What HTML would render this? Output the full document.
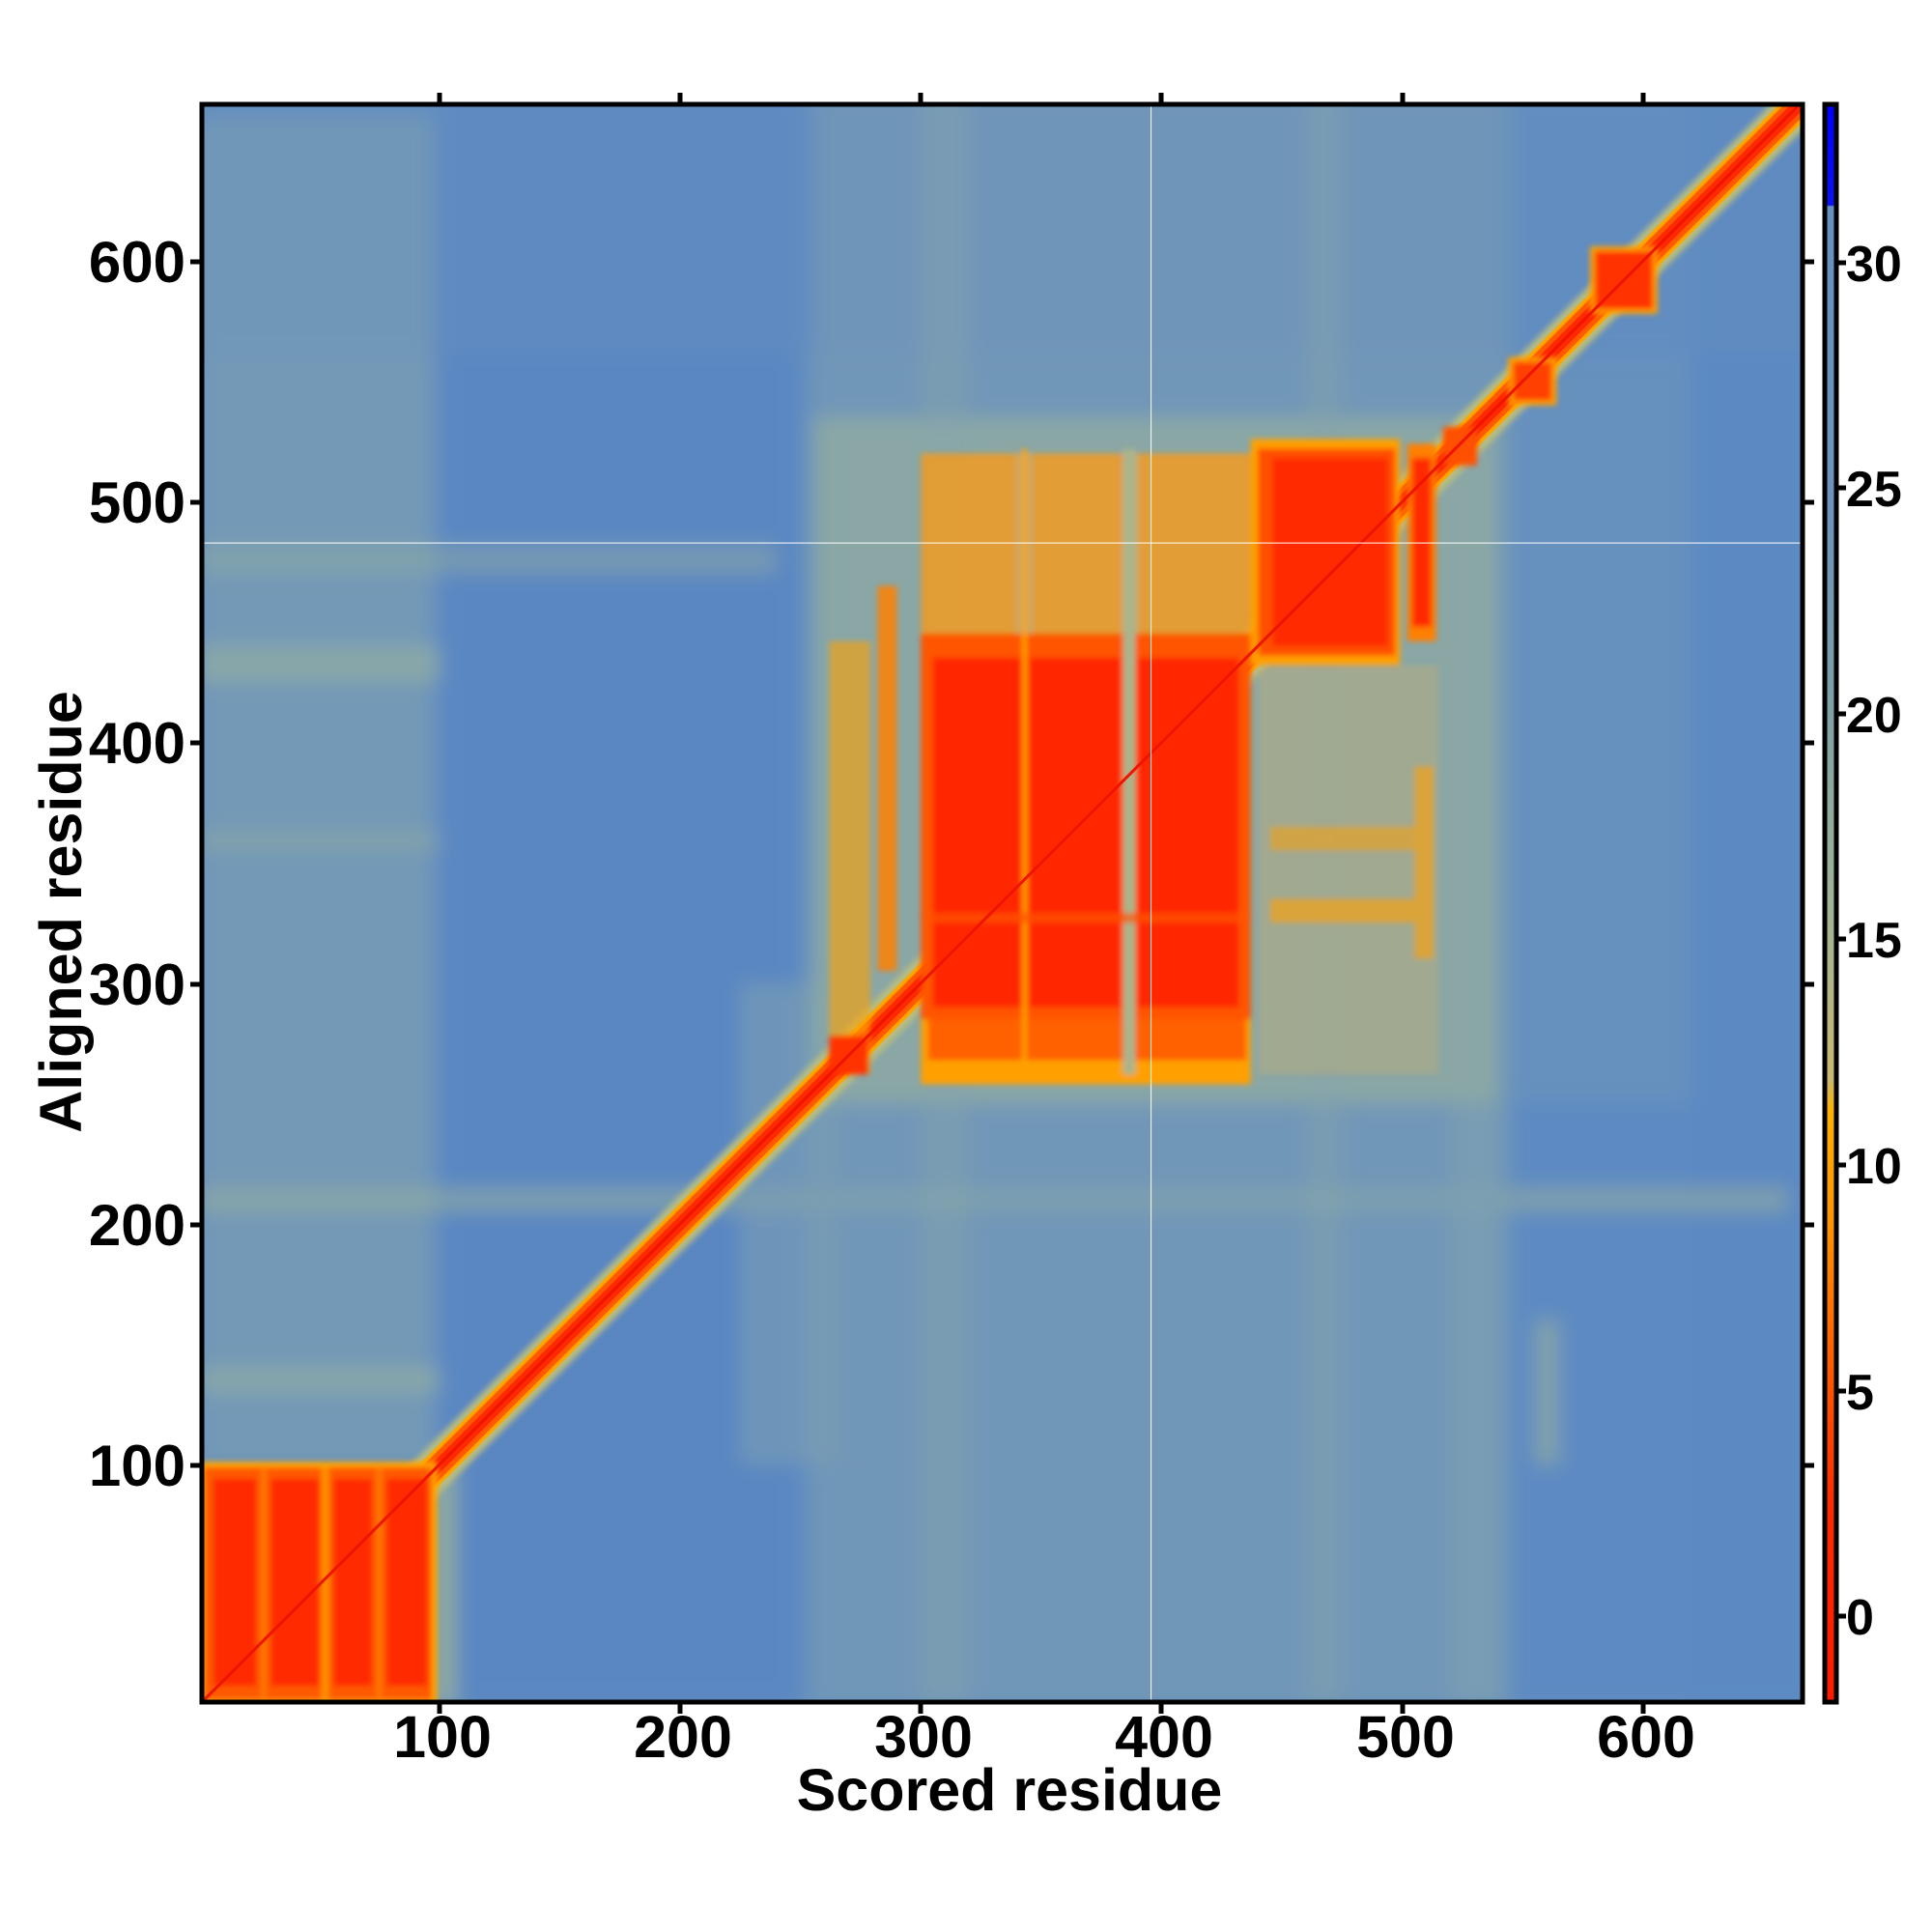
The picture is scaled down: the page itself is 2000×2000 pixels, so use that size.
<!DOCTYPE html>
<html><head><meta charset="utf-8"><style>
html,body{margin:0;padding:0;background:#fff;}
svg{display:block;}
text{font-family:"Liberation Sans",sans-serif;font-weight:bold;fill:#000;}
</style></head><body>
<svg width="2000" height="2000" viewBox="0 0 2000 2000" xmlns="http://www.w3.org/2000/svg">
<defs>
<clipPath id="pc"><rect x="207" y="106" width="1661" height="1658"/></clipPath>
<filter id="bl" x="-5%" y="-5%" width="110%" height="110%"><feGaussianBlur stdDeviation="4"/></filter>
<filter id="bl2" x="-5%" y="-5%" width="110%" height="110%"><feGaussianBlur stdDeviation="1.2"/></filter>
<linearGradient id="cb" x1="0" y1="1" x2="0" y2="0">
<stop offset="0" stop-color="#ff1a00"/>
<stop offset="0.12" stop-color="#ff2a00"/>
<stop offset="0.2" stop-color="#ff5500"/>
<stop offset="0.3" stop-color="#ff9400"/>
<stop offset="0.37" stop-color="#ffb000"/>
<stop offset="0.39" stop-color="#c8b870"/>
<stop offset="0.5" stop-color="#9fb496"/>
<stop offset="0.64" stop-color="#7a9ea8"/>
<stop offset="0.75" stop-color="#6a94bc"/>
<stop offset="0.936" stop-color="#6492c0"/>
<stop offset="0.937" stop-color="#0a14f0"/>
<stop offset="1" stop-color="#0000ff"/>
</linearGradient>
</defs>
<g clip-path="url(#pc)">
<rect x="207" y="106" width="1661" height="1658" fill="#6690be"/>
<g transform="translate(207,1764) scale(2.492,-2.492) translate(-0.5,-0.5)">
<g filter="url(#bl)">
<rect x="100" y="0" width="150" height="670" fill="#5a87c2"/>
<rect x="545" y="0" width="125" height="250" fill="#5d8ac2"/>
<rect x="620" y="0" width="50" height="670" fill="#5c89c2"/>
<rect x="0" y="560" width="670" height="110" fill="#5f8cc0" opacity="0.7"/>
<rect x="0" y="100" width="97" height="560" fill="#7d9fb2" opacity="0.6"/>
<rect x="0" y="130" width="100" height="10" fill="#96b09e" opacity="0.6"/>
<rect x="0" y="205" width="660" height="10" fill="#92ae9e" opacity="0.6"/>
<rect x="0" y="425" width="100" height="15" fill="#96b09e" opacity="0.6"/>
<rect x="0" y="470" width="240" height="12" fill="#8eaba4" opacity="0.5"/>
<rect x="0" y="355" width="100" height="8" fill="#90aca0" opacity="0.5"/>
<rect x="97" y="0" width="10" height="100" fill="#9ab39a" opacity="0.8"/>
<rect x="225" y="100" width="40" height="200" fill="#7c9eb2" opacity="0.6"/>
<rect x="255" y="250" width="285" height="285" fill="#9db497"/>
<rect x="255" y="0" width="290" height="670" fill="#7a9db3" opacity="0.55"/>
<rect x="555" y="100" width="10" height="60" fill="#9ab39a" opacity="0.6"/>
<rect x="520" y="0" width="20" height="250" fill="#80a2b0" opacity="0.6"/>
<rect x="300" y="0" width="20" height="670" fill="#86a6ac" opacity="0.4"/>
<rect x="460" y="0" width="15" height="670" fill="#86a6ac" opacity="0.4"/>
</g>
<line x1="0" y1="0" x2="672" y2="672" stroke="#b8bc80" stroke-width="17" filter="url(#bl2)"/>
<line x1="0" y1="0" x2="672" y2="672" stroke="#ffa500" stroke-width="12"/>
<line x1="0" y1="0" x2="672" y2="672" stroke="#ff5a00" stroke-width="9"/>
<line x1="0" y1="0" x2="672" y2="672" stroke="#ff2800" stroke-width="5"/>
<g filter="url(#bl2)">
<rect x="0" y="0" width="99" height="101" fill="#ffb000"/>
<rect x="2" y="2" width="95" height="97" fill="#ff5a00"/>
<g fill="#ff2a00">
<rect x="6" y="8" width="18" height="86"/>
<rect x="30" y="8" width="20" height="86"/>
<rect x="56" y="8" width="16" height="86"/>
<rect x="78" y="8" width="17" height="86"/>
</g>
<rect x="51" y="0" width="3" height="100" fill="#ffa000" opacity="0.8"/>
<rect x="26" y="0" width="2" height="100" fill="#ff8a00" opacity="0.7"/>
<rect x="74" y="0" width="2" height="100" fill="#ff8a00" opacity="0.7"/>
<rect x="262" y="262" width="17" height="180" fill="#ffa000" opacity="0.6"/>
<rect x="282" y="305" width="8" height="160" fill="#ff8000" opacity="0.85"/>
<rect x="300" y="440" width="137" height="80" fill="#ff9a10" opacity="0.75"/>
<rect x="340" y="440" width="6" height="80" fill="#a8b58c" opacity="0.6"/>
<rect x="384" y="440" width="6" height="80" fill="#a8b58c" opacity="0.6"/>
<rect x="300" y="258" width="137" height="30" fill="#ffa000"/>
<rect x="303" y="268" width="132" height="20" fill="#ff6000"/>
<rect x="300" y="285" width="137" height="160" fill="#ff5500"/>
<g fill="#ff2800">
<rect x="305" y="290" width="37" height="145"/>
<rect x="345" y="290" width="38" height="145"/>
<rect x="390" y="290" width="42" height="145"/>
</g>
<rect x="342" y="262" width="2" height="260" fill="#ffa000"/>
<rect x="384" y="262" width="5" height="260" fill="#a8b58c"/>
<rect x="300" y="325" width="137" height="4" fill="#ff5500" opacity="0.7"/>
<rect x="440" y="262" width="75" height="170" fill="#d8b060" opacity="0.3"/>
<rect x="445" y="325" width="60" height="10" fill="#ffa000" opacity="0.6"/>
<rect x="445" y="355" width="60" height="10" fill="#ffa000" opacity="0.5"/>
<rect x="505" y="310" width="8" height="80" fill="#ffa000" opacity="0.6"/>
<rect x="437" y="432" width="62" height="94" fill="#ffa000"/>
<rect x="440" y="436" width="57" height="86" fill="#ff5000"/>
<rect x="446" y="440" width="48" height="78" fill="#ff2a00"/>
<rect x="502" y="442" width="12" height="82" fill="#ff8000"/>
<rect x="504" y="448" width="8" height="70" fill="#ff2a00"/>
<rect x="262" y="262" width="16" height="16" fill="#ff3000"/>
<rect x="517" y="515" width="14" height="16" fill="#ff5000"/>
<rect x="544" y="540" width="20" height="20" fill="#ffa000"/>
<rect x="546" y="542" width="16" height="16" fill="#ff4000"/>
<rect x="578" y="578" width="28" height="28" fill="#ffa000"/>
<rect x="580" y="580" width="24" height="24" fill="#ff3000"/>
</g>
<line x1="0" y1="0" x2="672" y2="672" stroke="#ee1400" stroke-width="1.2"/>
<rect x="395.4" y="0" width="0.4" height="670" fill="#fff"/>
<rect x="0" y="482.6" width="670" height="0.4" fill="#fff"/>
</g>
</g>
<rect x="209" y="108" width="1657" height="1654" fill="none" stroke="#000" stroke-width="5"/>
<g stroke="#000" stroke-width="5">
<line x1="455" y1="96" x2="455" y2="106"/><line x1="704" y1="96" x2="704" y2="106"/><line x1="953" y1="96" x2="953" y2="106"/><line x1="1202" y1="96" x2="1202" y2="106"/><line x1="1452" y1="96" x2="1452" y2="106"/><line x1="1701" y1="96" x2="1701" y2="106"/>
<line x1="455" y1="1764" x2="455" y2="1774"/><line x1="704" y1="1764" x2="704" y2="1774"/><line x1="953" y1="1764" x2="953" y2="1774"/><line x1="1202" y1="1764" x2="1202" y2="1774"/><line x1="1452" y1="1764" x2="1452" y2="1774"/><line x1="1701" y1="1764" x2="1701" y2="1774"/>
<line x1="197" y1="1517" x2="207" y2="1517"/><line x1="197" y1="1268" x2="207" y2="1268"/><line x1="197" y1="1019" x2="207" y2="1019"/><line x1="197" y1="769" x2="207" y2="769"/><line x1="197" y1="520" x2="207" y2="520"/><line x1="197" y1="271" x2="207" y2="271"/>
<line x1="1868" y1="1517" x2="1878" y2="1517"/><line x1="1868" y1="1268" x2="1878" y2="1268"/><line x1="1868" y1="1019" x2="1878" y2="1019"/><line x1="1868" y1="769" x2="1878" y2="769"/><line x1="1868" y1="520" x2="1878" y2="520"/><line x1="1868" y1="271" x2="1878" y2="271"/>
</g>
<g font-size="61" text-anchor="middle">
<text x="458" y="1819">100</text><text x="707" y="1819">200</text><text x="956" y="1819">300</text><text x="1205" y="1819">400</text><text x="1455" y="1819">500</text><text x="1704" y="1819">600</text>
</g>
<g font-size="60" text-anchor="end">
<text x="192" y="1538">100</text><text x="192" y="1289">200</text><text x="192" y="1040">300</text><text x="192" y="790">400</text><text x="192" y="541">500</text><text x="192" y="292">600</text>
</g>
<text x="1045" y="1874" font-size="61" text-anchor="middle">Scored residue</text>
<text transform="translate(84,944) rotate(-90)" font-size="61" text-anchor="middle">Aligned residue</text>
<rect x="1889" y="108" width="12" height="1654" fill="url(#cb)" stroke="#000" stroke-width="5"/>
<g stroke="#000" stroke-width="5">
<line x1="1903" y1="1673" x2="1911" y2="1673"/><line x1="1903" y1="1440" x2="1911" y2="1440"/><line x1="1903" y1="1206" x2="1911" y2="1206"/><line x1="1903" y1="972" x2="1911" y2="972"/><line x1="1903" y1="739" x2="1911" y2="739"/><line x1="1903" y1="505" x2="1911" y2="505"/><line x1="1903" y1="272" x2="1911" y2="272"/>
</g>
<g font-size="52">
<text x="1911" y="1692">0</text><text x="1911" y="1459">5</text><text x="1911" y="1225">10</text><text x="1911" y="991">15</text><text x="1911" y="758">20</text><text x="1911" y="524">25</text><text x="1911" y="291">30</text>
</g>
</svg>
</body></html>
